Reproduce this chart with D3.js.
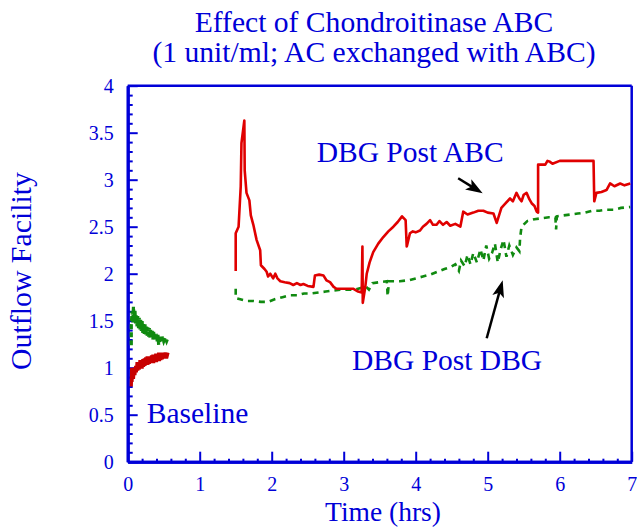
<!DOCTYPE html>
<html><head><meta charset="utf-8">
<script src="https://cdn.jsdelivr.net/npm/d3@7"></script>
<style>
body{margin:0;background:#fff;}
svg{display:block;font-family:"Liberation Serif","Times New Roman",serif;}
</style></head>
<body><svg id="c" width="637" height="527"></svg>
<script>
const titleLines = ["Effect of Chondroitinase ABC", "(1 unit/ml; AC exchanged with ABC)"];
const xLabel = "Time (hrs)";
const yLabel = "Outflow Facility";
const xTicks = [0,1,2,3,4,5,6,7];
const yTicks = [0,0.5,1,1.5,2,2.5,3,3.5,4];
const yTickLabels = ["0","0.5","1","1.5","2","2.5","3","3.5","4"];

// Baseline (red)
const baseRed = [[0.05,0.80],[0.055,1.00],[0.06,0.85],[0.07,0.97],[0.08,0.88],[0.09,1.00],[0.10,0.92],[0.11,1.02],[0.12,0.95],[0.13,1.06],[0.14,0.97],[0.15,1.05],[0.16,0.98],[0.17,1.08],[0.18,1.00],[0.19,1.07],[0.20,0.99],[0.21,1.09],[0.22,1.01],[0.23,1.10],[0.24,1.02],[0.25,1.11],[0.26,1.04],[0.27,1.12],[0.28,1.03],[0.29,1.10],[0.30,1.04],[0.31,1.12],[0.32,1.05],[0.33,1.13],[0.34,1.06],[0.35,1.14],[0.36,1.05],[0.37,1.13],[0.38,1.07],[0.39,1.15],[0.40,1.06],[0.41,1.14],[0.42,1.08],[0.43,1.16],[0.44,1.07],[0.45,1.15],[0.46,1.08],[0.47,1.16],[0.48,1.09],[0.49,1.16],[0.50,1.10],[0.52,1.16],[0.54,1.10],[0.56,1.16]];
// Baseline (green)
const baseGreen = [[0.05,1.24],[0.05,1.45],[0.06,1.60],[0.07,1.48],[0.08,1.65],[0.09,1.50],[0.10,1.62],[0.11,1.47],[0.12,1.57],[0.13,1.44],[0.14,1.55],[0.15,1.42],[0.16,1.53],[0.17,1.40],[0.18,1.51],[0.19,1.39],[0.20,1.50],[0.21,1.37],[0.22,1.48],[0.23,1.36],[0.24,1.46],[0.25,1.35],[0.26,1.45],[0.27,1.34],[0.28,1.43],[0.29,1.33],[0.30,1.42],[0.31,1.32],[0.32,1.41],[0.33,1.31],[0.34,1.40],[0.35,1.30],[0.36,1.38],[0.37,1.30],[0.38,1.37],[0.39,1.29],[0.40,1.36],[0.41,1.28],[0.42,1.35],[0.43,1.24],[0.44,1.34],[0.45,1.27],[0.46,1.33],[0.47,1.28],[0.48,1.33],[0.50,1.28],[0.52,1.32],[0.54,1.28],[0.55,1.30]];
// DBG Post ABC (red)
const postABC = [[1.50,2.03],[1.50,2.43],[1.54,2.50],[1.57,2.93],[1.58,3.39],[1.62,3.63],[1.625,3.10],[1.65,2.86],[1.69,2.78],[1.71,2.62],[1.745,2.52],[1.79,2.36],[1.84,2.25],[1.85,2.09],[1.90,2.05],[1.93,2.02],[1.95,1.97],[1.98,2.00],[2.02,1.95],[2.05,2.00],[2.08,1.95],[2.12,1.92],[2.18,1.91],[2.25,1.90],[2.30,1.88],[2.35,1.90],[2.40,1.88],[2.44,1.89],[2.50,1.87],[2.58,1.86],[2.60,1.98],[2.66,1.99],[2.72,1.98],[2.76,1.93],[2.81,1.91],[2.86,1.86],[2.90,1.84],[3.00,1.84],[3.13,1.84],[3.20,1.81],[3.25,1.80],[3.26,2.29],[3.265,1.69],[3.30,1.86],[3.32,2.00],[3.36,2.12],[3.41,2.23],[3.48,2.32],[3.55,2.39],[3.62,2.45],[3.69,2.50],[3.75,2.55],[3.81,2.61],[3.86,2.57],[3.875,2.29],[3.88,2.30],[3.92,2.43],[3.96,2.45],[4.00,2.44],[4.06,2.46],[4.10,2.50],[4.15,2.53],[4.20,2.57],[4.24,2.52],[4.29,2.52],[4.33,2.56],[4.38,2.52],[4.43,2.55],[4.48,2.51],[4.55,2.53],[4.62,2.50],[4.66,2.66],[4.72,2.63],[4.80,2.65],[4.87,2.67],[4.94,2.67],[5.00,2.65],[5.08,2.64],[5.125,2.54],[5.19,2.70],[5.25,2.75],[5.31,2.80],[5.35,2.77],[5.40,2.86],[5.44,2.80],[5.47,2.77],[5.50,2.84],[5.54,2.86],[5.58,2.79],[5.61,2.75],[5.65,2.72],[5.68,2.66],[5.70,2.65],[5.70,3.16],[5.80,3.16],[5.83,3.20],[5.865,3.19],[5.90,3.17],[6.00,3.20],[6.47,3.20],[6.48,2.77],[6.51,2.86],[6.58,2.87],[6.65,2.89],[6.70,2.96],[6.76,2.93],[6.84,2.96],[6.90,2.94],[6.98,2.96]];
// DBG Post DBG (green)
const postDBG = [[1.50,1.84],[1.50,1.74],[1.55,1.73],[1.65,1.71],[1.75,1.71],[1.85,1.70],[1.95,1.70],[2.05,1.73],[2.15,1.75],[2.25,1.77],[2.35,1.77],[2.45,1.79],[2.55,1.79],[2.65,1.80],[2.75,1.81],[2.85,1.82],[2.95,1.83],[3.05,1.83],[3.15,1.83],[3.25,1.85],[3.30,1.87],[3.35,1.83],[3.40,1.90],[3.50,1.91],[3.60,1.92],[3.61,1.76],[3.63,1.92],[3.78,1.92],[3.90,1.93],[4.00,1.95],[4.10,1.97],[4.20,1.99],[4.30,2.02],[4.40,2.05],[4.48,2.07],[4.55,2.10],[4.60,2.03],[4.63,2.14],[4.68,2.08],[4.72,2.20],[4.76,2.10],[4.80,2.22],[4.85,2.12],[4.90,2.26],[4.94,2.14],[4.98,2.30],[5.02,2.16],[5.06,2.22],[5.10,2.32],[5.14,2.12],[5.18,2.26],[5.22,2.36],[5.26,2.18],[5.30,2.30],[5.35,2.20],[5.40,2.28],[5.44,2.24],[5.45,2.38],[5.47,2.50],[5.55,2.56],[5.65,2.58],[5.75,2.59],[5.85,2.60],[5.94,2.60],[5.95,2.47],[5.96,2.61],[6.05,2.62],[6.15,2.63],[6.25,2.64],[6.35,2.65],[6.45,2.67],[6.55,2.67],[6.65,2.68],[6.75,2.68],[6.85,2.70],[6.98,2.71]];

// annotations: [text, t, value]
const notes = [["DBG Post ABC",2.625,3.19],["DBG Post DBG",3.115,0.976],["Baseline",0.264,0.415]];
// arrows: [t0, v0, t1(tip), v1(tip)]
const arrows = [[4.59,3.015,4.93,2.855],[4.986,1.313,5.208,1.93]];
</script>
<script>
const svg = d3.select("#c");
const BLUE = "#0000d8", RED = "#e00000", DRED = "#c80000", GREEN = "#108a10";
const x = d3.scaleLinear().domain([0,7]).range([127.7,631.7]);
const y = d3.scaleLinear().domain([0,4]).range([461.7,85.7]);

// title
svg.append("g").selectAll("text").data(titleLines).join("text")
  .attr("x", 374).attr("y", (d,i)=>32+i*30)
  .attr("text-anchor","middle").attr("fill",BLUE)
  .attr("font-size",29.6).text(d=>d);

// frame top & right
svg.append("line").attr("x1",x(0)).attr("x2",x(7)).attr("y1",y(4)).attr("y2",y(4))
  .attr("stroke",BLUE).attr("stroke-width",2.5);
svg.append("line").attr("x1",x(7)).attr("x2",x(7)).attr("y1",y(4)).attr("y2",y(0))
  .attr("stroke",BLUE).attr("stroke-width",2.5);

// minor ticks
const yMinor = d3.range(0,41).map(i=>i/10).filter(v=>Math.abs(v*2-Math.round(v*2))>1e-6);
const xMinor = d3.range(0,36).map(i=>i/5).filter(v=>Math.abs(v-Math.round(v))>1e-6);
const gyMinor = svg.append("g").attr("transform",`translate(${x(0)},0)`)
  .call(d3.axisLeft(y).tickValues(yMinor).tickSizeInner(-5).tickSizeOuter(0).tickFormat(""));
const gxMinor = svg.append("g").attr("transform",`translate(0,${y(0)})`)
  .call(d3.axisBottom(x).tickValues(xMinor).tickSizeInner(-3).tickSizeOuter(0).tickFormat(""));

// major axes
const gy = svg.append("g").attr("transform",`translate(${x(0)},0)`)
  .call(d3.axisLeft(y).tickValues(yTicks).tickSizeInner(-10).tickSizeOuter(0)
    .tickPadding(14).tickFormat((d,i)=>yTickLabels[i]));
const gx = svg.append("g").attr("transform",`translate(0,${y(0)})`)
  .call(d3.axisBottom(x).tickValues(xTicks).tickSizeInner(-10).tickSizeOuter(0)
    .tickPadding(15.5).tickFormat(d3.format("d")));
[gy,gx,gyMinor,gxMinor].forEach(g=>{
  g.selectAll("path.domain").attr("stroke",BLUE).attr("stroke-width",3);
  g.selectAll(".tick line").attr("stroke",BLUE).attr("stroke-width",2);
  g.selectAll("text").attr("fill",BLUE).attr("font-size",20)
    .attr("font-family",'"Liberation Serif","Times New Roman",serif');
});

// axis labels
svg.append("text").attr("x",383).attr("y",520.8).attr("text-anchor","middle")
  .attr("fill",BLUE).attr("font-size",27.5).text(xLabel);
svg.append("text").attr("transform","translate(31,271) rotate(-90)").attr("text-anchor","middle")
  .attr("fill",BLUE).attr("font-size",29.8).text(yLabel);

// lines
const line = d3.line().x(d=>x(d[0])).y(d=>y(d[1]));
svg.append("path").attr("d",line(baseRed)).attr("fill","none").attr("stroke",DRED).attr("stroke-width",3.2);
svg.append("path").attr("d",line(baseGreen)).attr("fill","none").attr("stroke",GREEN).attr("stroke-width",3.2).attr("stroke-dasharray","5,3");
svg.append("path").attr("d",line(postDBG)).attr("fill","none").attr("stroke",GREEN).attr("stroke-width",2.6).attr("stroke-dasharray","6,5");
svg.append("path").attr("d",line(postABC)).attr("fill","none").attr("stroke",RED).attr("stroke-width",2.6).attr("stroke-linejoin","round");

// annotations
svg.append("g").selectAll("text").data(notes).join("text")
  .attr("x",d=>x(d[1])).attr("y",d=>y(d[2])).attr("fill",BLUE).attr("font-size",29.5).text(d=>d[0]);

// arrows
const ag = svg.append("g");
arrows.forEach(a=>{
  const x0=x(a[0]), y0=y(a[1]), x1=x(a[2]), y1=y(a[3]);
  const ang = Math.atan2(y1-y0,x1-x0);
  const L=13, W=6;
  const bx = x1-L*Math.cos(ang), by = y1-L*Math.sin(ang);
  ag.append("line").attr("x1",x0).attr("y1",y0).attr("x2",bx+3*Math.cos(ang)).attr("y2",by+3*Math.sin(ang))
    .attr("stroke","#000").attr("stroke-width",2.5);
  const px = -Math.sin(ang), py = Math.cos(ang);
  const notch = 4;
  ag.append("path").attr("d",`M${x1},${y1}L${bx+W*px-notch*Math.cos(ang)},${by+W*py-notch*Math.sin(ang)}L${bx},${by}L${bx-W*px-notch*Math.cos(ang)},${by-W*py-notch*Math.sin(ang)}Z`)
    .attr("fill","#000");
});
</script>
</body></html>
